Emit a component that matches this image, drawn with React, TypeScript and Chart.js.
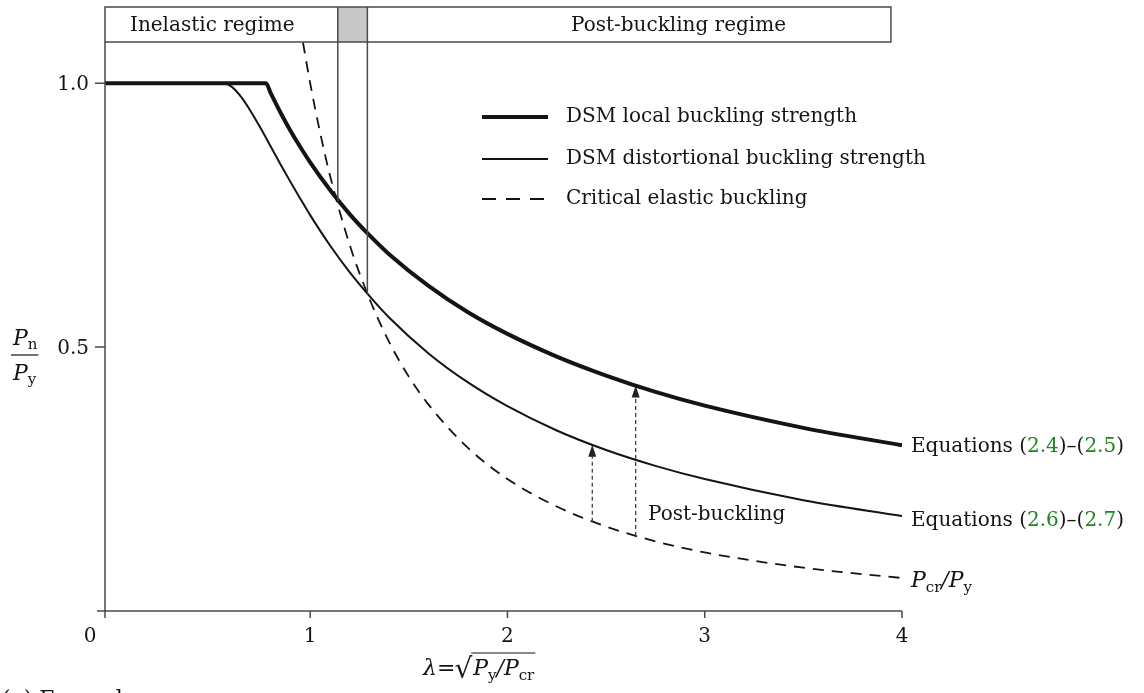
import { useEffect, useRef } from 'react';
import { Chart, registerables } from 'chart.js';

Chart.register(...registerables);

// ---- data ----
const xLocal = [-0.04, 0.776, 0.8, 0.85, 0.9, 0.95, 1.0, 1.1, 1.2, 1.3, 1.4, 1.6, 1.8, 2.0, 2.25, 2.5, 2.75, 3.0, 3.5, 4.0];
const yLocal = [1, 1, 0.981, 0.944, 0.91, 0.879, 0.85, 0.798, 0.752, 0.712, 0.676, 0.616, 0.566, 0.525, 0.482, 0.446, 0.415, 0.389, 0.347, 0.314];

const xDist = [-0.04, 0.561, 0.6, 0.65, 0.7, 0.75, 0.8, 0.85, 0.9, 0.95, 1.0, 1.1, 1.2, 1.3, 1.4, 1.6, 1.8, 2.0, 2.25, 2.5, 2.75, 3.0, 3.5, 4.0];
const yDist = [1, 1, 0.994, 0.974, 0.946, 0.914, 0.88, 0.846, 0.813, 0.781, 0.75, 0.693, 0.642, 0.597, 0.556, 0.488, 0.433, 0.388, 0.342, 0.305, 0.275, 0.25, 0.21, 0.18];

const xElastic = [0.9636, 1.0, 1.05, 1.1, 1.2, 1.3, 1.4, 1.5, 1.6, 1.8, 2.0, 2.25, 2.5, 2.75, 3.0, 3.5, 4.0];
const yElastic = [1.077, 1.0, 0.907, 0.826, 0.694, 0.592, 0.51, 0.444, 0.391, 0.309, 0.25, 0.198, 0.16, 0.132, 0.111, 0.082, 0.0625];

const legendLabels = ['DSM local buckling strength', 'DSM distortional buckling strength', 'Critical elastic buckling'];

// post-buckling arrows: lambda, from (elastic) and to (strength curve)
const arrowX = [2.43, 2.65];
const arrowFrom = [0.169, 0.142];
const arrowTo = [0.315, 0.427];

// regime bar boundaries (lambda) and where the vertical separators stop (P/Py)
const regimeX = [-0.04, 1.14, 1.29, 3.944];
const regimeLineEnds = [0.777, 0.601];
const regimeLabels = ['Inelastic regime', 'Post-buckling regime'];

const xTicks = [0, 1, 2, 3, 4];
const yTicks = [0.5, 1.0];
const yTickLabels = ['0.5', '1.0'];

const SERIF = '"DejaVu Serif", "Liberation Serif", serif';
const GREEN = '#23851f';
const INK = '#141414';
const AXIS = '#4a4a4a';

const toPts = (xs: number[], ys: number[]) => xs.map((v, i) => ({ x: v, y: ys[i] }));

type Part = { t: string; font: string; color?: string; dy?: number };

function drawParts(ctx: CanvasRenderingContext2D, parts: Part[], x: number, y: number) {
  let cx = x;
  ctx.textBaseline = 'alphabetic';
  ctx.textAlign = 'left';
  for (const p of parts) {
    ctx.font = p.font;
    ctx.fillStyle = p.color || INK;
    ctx.fillText(p.t, cx, y + (p.dy || 0));
    cx += ctx.measureText(p.t).width;
  }
  return cx;
}

const overlay = {
  id: 'overlay',
  afterDraw(chart: any) {
    const { ctx, scales } = chart;
    const xs = scales.x;
    const ys = scales.y;
    const px = (v: number) => xs.getPixelForValue(v);
    const py = (v: number) => ys.getPixelForValue(v);
    const area = chart.chartArea;
    ctx.save();

    const R = '20px ' + SERIF;
    const RI = 'italic 20px ' + SERIF;
    const SUB = '14px ' + SERIF;
    const BI = 'italic 22px ' + SERIF;
    const BSUB = '15px ' + SERIF;

    // ---- axes ----
    ctx.strokeStyle = AXIS;
    ctx.lineWidth = 1.5;
    ctx.beginPath();
    ctx.moveTo(area.left, area.top);
    ctx.lineTo(area.left, area.bottom + 7);
    ctx.moveTo(area.left - 8, area.bottom);
    ctx.lineTo(px(4), area.bottom);
    ctx.stroke();

    ctx.beginPath();
    for (const t of xTicks) {
      if (t === 0) continue;
      ctx.moveTo(px(t), area.bottom);
      ctx.lineTo(px(t), area.bottom + 7);
    }
    for (const t of yTicks) {
      ctx.moveTo(area.left - 10, py(t));
      ctx.lineTo(area.left, py(t));
    }
    ctx.stroke();

    ctx.fillStyle = INK;
    ctx.font = R;
    ctx.textBaseline = 'middle';
    ctx.textAlign = 'center';
    for (const t of xTicks) {
      const xx = t === 0 ? area.left - 15 : px(t);
      ctx.fillText(String(t), xx, area.bottom + 26);
    }
    ctx.textAlign = 'right';
    yTicks.forEach((t, i) => ctx.fillText(yTickLabels[i], area.left - 16, py(t) + 2));

    // y-axis title: Pn / Py
    const fx = 13;
    const barY = 355;
    const e1 = drawParts(ctx, [{ t: 'P', font: BI }, { t: 'n', font: BSUB, dy: 4 }], fx, barY - 10);
    ctx.strokeStyle = INK;
    ctx.lineWidth = 1.2;
    ctx.beginPath();
    ctx.moveTo(fx - 2, barY);
    ctx.lineTo(e1 + 1, barY);
    ctx.stroke();
    drawParts(ctx, [{ t: 'P', font: BI }, { t: 'y', font: BSUB, dy: 4 }], fx, barY + 25);

    // x-axis title: λ=√(Py/Pcr)
    const lx = 423;
    const ly = 675;
    let cx = drawParts(ctx, [{ t: 'λ', font: BI }, { t: '=', font: '22px ' + SERIF }], lx, ly);
    cx = drawParts(ctx, [{ t: '√', font: '28px ' + SERIF }], cx - 1, ly + 3);
    const rStart = cx;
    const rEnd = drawParts(ctx, [
      { t: 'P', font: BI },
      { t: 'y', font: BSUB, dy: 5 },
      { t: '/', font: BI },
      { t: 'P', font: BI },
      { t: 'cr', font: BSUB, dy: 5 },
    ], cx + 1, ly);
    ctx.beginPath();
    ctx.moveTo(rStart - 1, ly - 22);
    ctx.lineTo(rEnd + 1, ly - 22);
    ctx.stroke();

    // caption (cut at bottom of the image)
    drawParts(ctx, [{ t: '(a) Example', font: '22px ' + SERIF }], 2, 706);

    // ---- regime bar ----
    const topY = 7;
    const botY = area.top;
    const b0 = px(regimeX[0]);
    const b1 = px(regimeX[1]);
    const b2 = px(regimeX[2]);
    const b3 = px(regimeX[3]);
    ctx.fillStyle = '#c8c8c8';
    ctx.fillRect(b1, topY, b2 - b1, botY - topY);
    ctx.strokeStyle = AXIS;
    ctx.lineWidth = 1.5;
    ctx.strokeRect(b0, topY, b3 - b0, botY - topY);
    ctx.beginPath();
    ctx.moveTo(b1, topY);
    ctx.lineTo(b1, py(regimeLineEnds[0]));
    ctx.moveTo(b2, topY);
    ctx.lineTo(b2, py(regimeLineEnds[1]));
    ctx.stroke();
    ctx.fillStyle = INK;
    ctx.font = R;
    ctx.textBaseline = 'middle';
    ctx.textAlign = 'left';
    ctx.fillText(regimeLabels[0], 130, (topY + botY) / 2 + 1);
    ctx.fillText(regimeLabels[1], 571, (topY + botY) / 2 + 1);

    // ---- legend ----
    const legY = [117, 159, 199];
    const styles = [
      { w: 4, dash: [] as number[] },
      { w: 2, dash: [] as number[] },
      { w: 2, dash: [14, 10] },
    ];
    legendLabels.forEach((lab, i) => {
      ctx.strokeStyle = INK;
      ctx.lineWidth = styles[i].w;
      ctx.setLineDash(styles[i].dash);
      ctx.beginPath();
      ctx.moveTo(482, legY[i]);
      ctx.lineTo(548, legY[i]);
      ctx.stroke();
      ctx.setLineDash([]);
      ctx.fillStyle = INK;
      ctx.font = R;
      ctx.textBaseline = 'middle';
      ctx.fillText(lab, 566, legY[i]);
    });

    // ---- post-buckling arrows ----
    ctx.strokeStyle = '#333';
    ctx.fillStyle = '#222';
    ctx.lineWidth = 1.2;
    arrowX.forEach((a, i) => {
      const ax = px(a);
      const y0 = py(arrowFrom[i]);
      const y1 = py(arrowTo[i]);
      ctx.setLineDash([4, 3]);
      ctx.beginPath();
      ctx.moveTo(ax, y0);
      ctx.lineTo(ax, y1 + 10);
      ctx.stroke();
      ctx.setLineDash([]);
      ctx.beginPath();
      ctx.moveTo(ax, y1);
      ctx.lineTo(ax - 4, y1 + 12);
      ctx.lineTo(ax + 4, y1 + 12);
      ctx.closePath();
      ctx.fill();
    });
    ctx.fillStyle = INK;
    ctx.font = R;
    ctx.textBaseline = 'alphabetic';
    ctx.fillText('Post-buckling', 648, 520);

    // ---- right-hand curve labels ----
    const rx = 911;
    const eqRow = (a: string, b: string, yy: number) =>
      drawParts(ctx, [
        { t: 'Equations (', font: R },
        { t: a, font: R, color: GREEN },
        { t: ')–(', font: R },
        { t: b, font: R, color: GREEN },
        { t: ')', font: R },
      ], rx, yy);
    eqRow('2.4', '2.5', 452);
    eqRow('2.6', '2.7', 526);
    drawParts(ctx, [
      { t: 'P', font: BI },
      { t: 'cr', font: BSUB, dy: 5 },
      { t: '/', font: BI },
      { t: 'P', font: BI },
      { t: 'y', font: BSUB, dy: 5 },
    ], rx, 587);

    ctx.restore();
  },
};

export default function App() {
  const ref = useRef<HTMLCanvasElement | null>(null);
  useEffect(() => {
    if (!ref.current) return;
    const chart = new Chart(ref.current, {
      type: 'scatter',
      data: {
        datasets: [
          {
            label: legendLabels[0],
            data: toPts(xLocal, yLocal),
            showLine: true,
            borderColor: INK,
            borderWidth: 4,
            pointRadius: 0,
            cubicInterpolationMode: 'monotone',
          },
          {
            label: legendLabels[1],
            data: toPts(xDist, yDist),
            showLine: true,
            borderColor: INK,
            borderWidth: 2,
            pointRadius: 0,
            cubicInterpolationMode: 'monotone',
          },
          {
            label: legendLabels[2],
            data: toPts(xElastic, yElastic),
            showLine: true,
            borderColor: INK,
            borderWidth: 1.8,
            borderDash: [11, 8],
            pointRadius: 0,
            cubicInterpolationMode: 'monotone',
          },
        ],
      },
      options: {
        responsive: false,
        animation: false,
        events: [],
        layout: { padding: { left: 105, right: 242, top: 42, bottom: 82 } },
        plugins: { legend: { display: false }, tooltip: { enabled: false } },
        scales: {
          x: { type: 'linear', min: -0.04, max: 4, display: false },
          y: { type: 'linear', min: 0, max: 1.078, display: false },
        },
      },
      plugins: [overlay],
    });
    return () => chart.destroy();
  }, []);
  return (
    <div style={{ position: 'fixed', left: 0, top: 0, width: 1144, height: 693, background: '#fff' }}>
      <canvas ref={ref} width={1144} height={693} style={{ width: 1144, height: 693, display: 'block' }} />
    </div>
  );
}
